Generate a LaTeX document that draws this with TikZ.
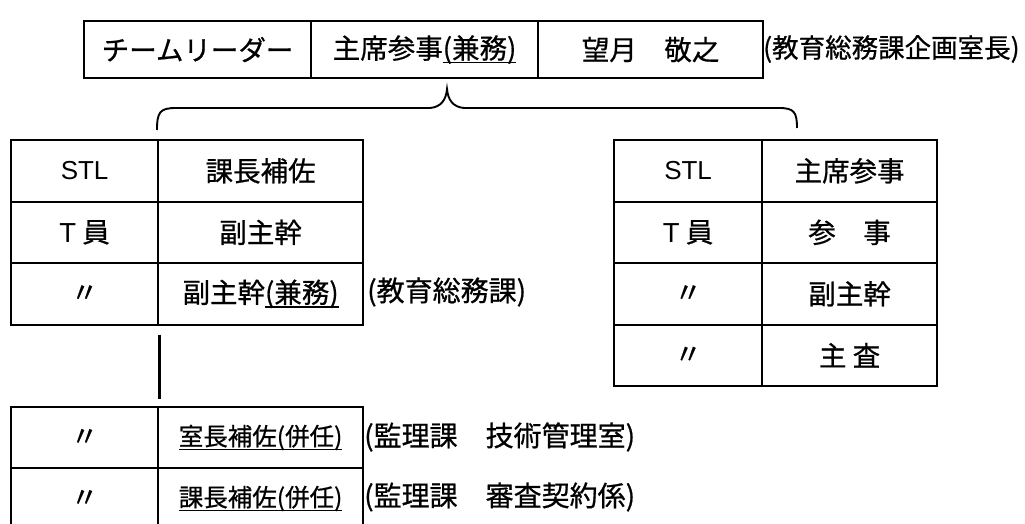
\documentclass[tikz,border=0pt]{standalone}
\usepackage{fontspec}
\setmainfont{Liberation Sans}
\newfontfamily\jp[FakeBold=0.7]{Noto Sans CJK JP}
\usetikzlibrary{calc}
\newcommand\ulx[1]{\setbox0\hbox{#1}\rlap{\rule[-5pt]{\wd0}{1.5pt}}\box0}
\begin{document}
\begin{tikzpicture}[x=1pt,y=-1pt,
  cell/.style={draw, line width=2.2pt, inner sep=0pt, anchor=north west,
    font=\jp\fontsize{27.5}{30}\selectfont},
  latin/.style={font=\rmfamily\fontsize{26}{30}\selectfont},
  small/.style={font=\jp\fontsize{24.5}{28}\selectfont},
  note/.style={anchor=west, inner sep=0pt, font=\jp\fontsize{28}{32}\selectfont},
  topnote/.style={note, font=\jp\fontsize{26.5}{30}\selectfont},
  conn/.style={line width=2.6pt},
  bracel/.style={line width=1.9pt}]
\useasboundingbox (0,0) rectangle (1025,524);
% top row
\node[cell, minimum width=227pt, minimum height=57pt] (t1) at (83,20) {チームリーダー};
\node[cell, minimum width=227pt, minimum height=57pt] (t2) at (310,20) {主席参事\ulx{(兼務)}};
\node[cell, minimum width=225pt, minimum height=57pt] (t3) at (537,20) {望月　敬之};
\node[topnote] (tn) at (763,49) {(教育総務課企画室長)};
% left table
\node[cell, latin, minimum width=147pt, minimum height=61.5pt] (l1a) at (10,139) {STL};
\node[cell, minimum width=205pt, minimum height=61.5pt] (l1b) at (157,139) {課長補佐};
\node[cell, minimum width=147pt, minimum height=61.5pt] (l2a) at (10,200.5) {{\rmfamily T} 員};
\node[cell, minimum width=205pt, minimum height=61.5pt] (l2b) at (157,200.5) {副主幹};
\node[cell, minimum width=147pt, minimum height=61.5pt] (l3a) at (10,262) {〃};
\node[cell, minimum width=205pt, minimum height=61.5pt] (l3b) at (157,262) {副主幹\ulx{(兼務)}};
\node[note] (ln) at (367,292) {(教育総務課)};
% right table
\node[cell, latin, minimum width=148pt, minimum height=61.5pt] (r1a) at (613,139) {STL};
\node[cell, minimum width=175pt, minimum height=61.5pt] (r1b) at (761,139) {主席参事};
\node[cell, minimum width=148pt, minimum height=61.5pt] (r2a) at (613,200.5) {{\rmfamily T} 員};
\node[cell, minimum width=175pt, minimum height=61.5pt] (r2b) at (761,200.5) {参　事};
\node[cell, minimum width=148pt, minimum height=61.5pt] (r3a) at (613,262) {〃};
\node[cell, minimum width=175pt, minimum height=61.5pt] (r3b) at (761,262) {副主幹};
\node[cell, minimum width=148pt, minimum height=61.5pt] (r4a) at (613,323.5) {〃};
\node[cell, minimum width=175pt, minimum height=61.5pt] (r4b) at (761,323.5) {主 査};
% bottom table
\node[cell, minimum width=147pt, minimum height=61pt] (b1a) at (10,406) {〃};
\node[cell, small, minimum width=205pt, minimum height=61pt] (b1b) at (157,406) {\ulx{室長補佐(併任)}};
\node[cell, minimum width=147pt, minimum height=61pt] (b2a) at (10,467) {〃};
\node[cell, small, minimum width=205pt, minimum height=61pt] (b2b) at (157,467) {\ulx{課長補佐(併任)}};
\node[note] (bn1) at (364,437) {(監理課　技術管理室)};
\node[note] (bn2) at (364,497) {(監理課　審査契約係)};
% connector between left table and bottom table
\draw[conn] ($(l3a.south east)+(0,9)$) -- ($(b1a.north east)+(0,-7)$);
% brace
\coordinate (bl) at (157,130);
\coordinate (bp) at (447,89);
\coordinate (br) at (797,128);
\draw[bracel] (bl) .. controls (157,112) and (160,108) .. (176,108) -- (430,108)
  .. controls (441,107) and (446,100) .. (bp)
  .. controls (448,100) and (453,107) .. (464,108) -- (779,108)
  .. controls (794,108) and (797,112) .. (br);
\end{tikzpicture}
\end{document}
